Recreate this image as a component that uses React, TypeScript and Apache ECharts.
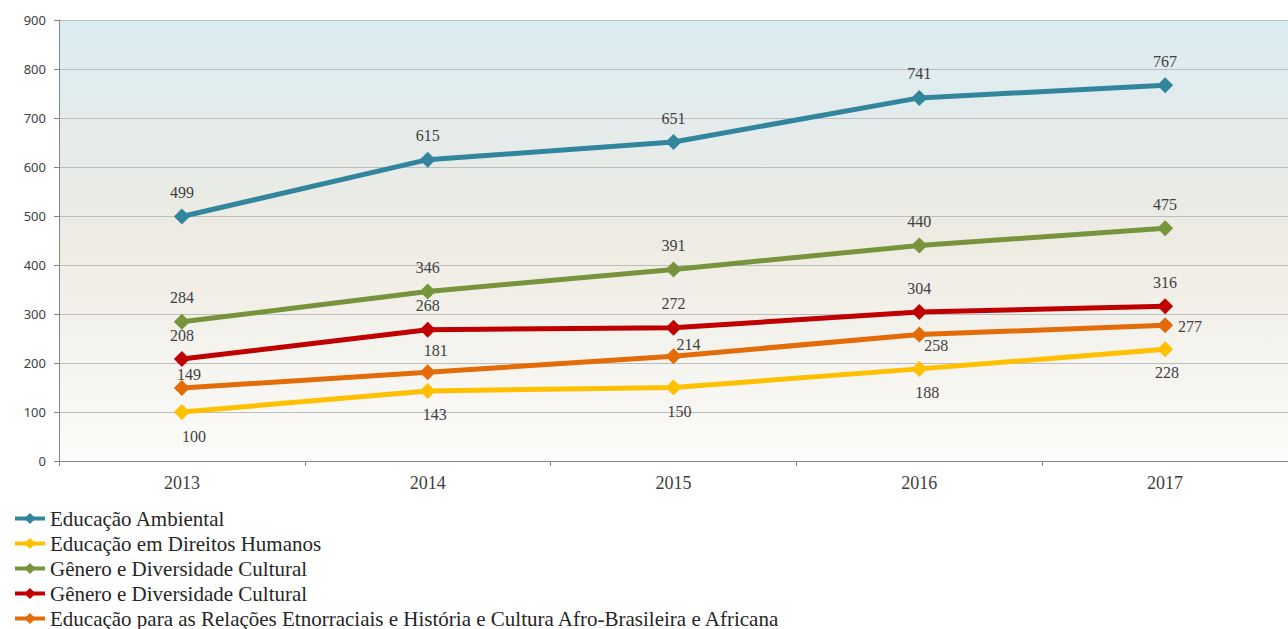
import React, { useEffect, useRef } from "react";
import * as echarts from "echarts";

const years = ["2013", "2014", "2015", "2016", "2017"];
const seriesNames = [
  "Educação Ambiental",
  "Educação em Direitos Humanos",
  "Gênero e Diversidade Cultural",
  "Gênero e Diversidade Cultural ",
  "Educação para as Relações Etnorraciais e História e Cultura Afro-Brasileira e Africana",
];
const ambiental = [499, 615, 651, 741, 767];
const direitosHumanos = [100, 143, 150, 188, 228];
const generoVerde = [284, 346, 391, 440, 475];
const generoVermelho = [208, 268, 272, 304, 316];
const etnorraciais = [149, 181, 214, 258, 277];
const yTicks = { min: 0, max: 900, interval: 100 };

const colors = ["#31859c", "#ffc000", "#77933c", "#c00000", "#e36c09"];

const serif = "Liberation Serif";

export default function App() {
  const ref = useRef<HTMLDivElement>(null);
  useEffect(() => {
    const chart = echarts.init(ref.current!, null, { renderer: "svg" });
    const labelBase = {
      show: true,
      fontFamily: serif,
      fontSize: 16,
      color: "#404040",
    };
    const mk = (
      name: string,
      data: number[],
      color: string,
      positions: any[],
      offsets: number[][]
    ) => ({
      name,
      type: "line",
      data: data.map((v, i) => ({
        value: v,
        label: { ...labelBase, position: positions[i], offset: offsets[i] },
      })),
      symbol: "diamond",
      symbolSize: 16,
      lineStyle: { width: 5, color },
      itemStyle: { color },
      label: labelBase,
    });
    const top = ["top", "top", "top", "top", "top"];
    const topOff = [[0, -3], [0, -3], [0, -3], [0, -3], [0, -3]];
    const series = [
      mk(seriesNames[0], ambiental, colors[0], top, topOff),
      mk(
        seriesNames[1],
        direitosHumanos,
        colors[1],
        ["bottom", "bottom", "bottom", "bottom", "bottom"],
        [[12, 3], [7, 3], [6, 3], [8, 3], [2, 2]]
      ),
      mk(seriesNames[2], generoVerde, colors[2], top, topOff),
      mk(seriesNames[3], generoVermelho, colors[3], top, topOff),
      mk(
        seriesNames[4],
        etnorraciais,
        colors[4],
        ["top", "top", "top", "bottom", "right"],
        [[7, 8], [8, -1], [15, 9], [17, -10], [0, 1]]
      ),
    ];
    chart.setOption({
      animation: false,
      grid: {
        left: 59,
        top: 20,
        width: 1235,
        height: 441,
        show: true,
        borderWidth: 0,
        backgroundColor: new echarts.graphic.LinearGradient(0, 0, 0, 1, [
          { offset: 0, color: "#dbecf3" },
          { offset: 0.5, color: "#eeebe2" },
          { offset: 1, color: "#fbfbf9" },
        ]),
      },
      legend: {
        orient: "vertical",
        left: 8,
        top: 503,
        height: 300,
        itemGap: 4,
        itemWidth: 30,
        itemHeight: 14,
        lineStyle: { width: 4 },
        data: seriesNames.map((n) => ({ name: n })),
        textStyle: {
          fontFamily: serif,
          fontSize: 21,
          color: "#262626",
        },
      },
      xAxis: {
        type: "category",
        data: years,
        boundaryGap: true,
        axisLine: { lineStyle: { color: "#868686", width: 1 } },
        axisTick: { show: true, length: 5, lineStyle: { color: "#868686" } },
        axisLabel: {
          fontFamily: serif,
          fontSize: 18,
          color: "#404040",
          margin: 13,
        },
      },
      yAxis: {
        type: "value",
        min: yTicks.min,
        max: yTicks.max,
        interval: yTicks.interval,
        axisLine: { show: true, lineStyle: { color: "#868686", width: 1 } },
        axisTick: { show: true, length: 5, lineStyle: { color: "#868686" } },
        splitLine: { lineStyle: { color: "#bdbdbd", width: 1 } },
        axisLabel: {
          fontFamily: "Noto Sans",
          fontSize: 13,
          color: "#404040",
          margin: 13,
        },
      },
      series,
    });
    return () => chart.dispose();
  }, []);
  return (
    <div
      ref={ref}
      style={{ position: "absolute", left: 0, top: 0, width: 1288, height: 629 }}
    />
  );
}
